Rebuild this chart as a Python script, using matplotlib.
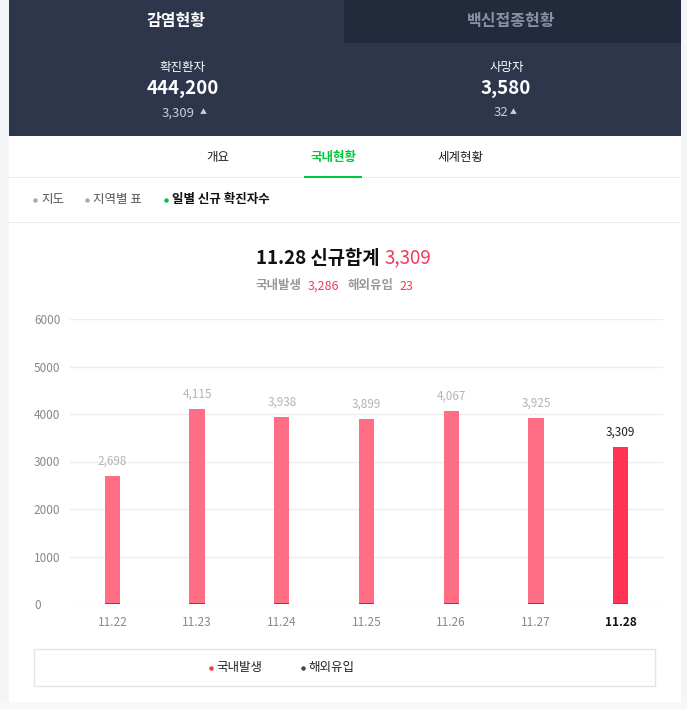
import matplotlib
matplotlib.use("Agg")
import matplotlib.pyplot as plt
from matplotlib.patches import Rectangle
from matplotlib.lines import Line2D

plt.rcParams["font.family"] = ["Noto Sans CJK KR", "DejaVu Sans"]

# data
dates = ["11.22", "11.23", "11.24", "11.25", "11.26", "11.27", "11.28"]
totals = [2698, 4115, 3938, 3899, 4067, 3925, 3309]
overseas = [22, 24, 25, 26, 25, 28, 23]
domestic = [t - o for t, o in zip(totals, overseas)]
y_ticks = [0, 1000, 2000, 3000, 4000, 5000, 6000]

W, H = 687, 709
fig = plt.figure(figsize=(W / 100, H / 100), dpi=100)
fig.patch.set_facecolor("white")


def fx(x):
    return x / W


def fy(y):
    return 1 - y / H


def rect(x0, y0, x1, y1, **kw):
    fig.patches.append(Rectangle((fx(x0), fy(y1)), fx(x1) - fx(x0), fy(y0) - fy(y1),
                                 transform=fig.transFigure, figure=fig, **kw))


def txt(x, y, s, **kw):
    kw.setdefault("ha", "center")
    kw.setdefault("va", "center")
    fig.text(fx(x), fy(y), s, **kw)


def dot(x, y, color, size=3.2):
    fig.lines.append(Line2D([fx(x)], [fy(y)], marker="o", markersize=size, color=color,
                            markeredgewidth=0, transform=fig.transFigure, figure=fig))


# page frame
rect(0, 0, 9, H, color="#f4f5f7", lw=0)
rect(681, 0, W, H, color="#f4f5f7", lw=0)
rect(0, 702, W, H, color="#f7f8fc", lw=0)

# dark header
rect(9, 0, 681, 136, color="#2e364b", lw=0)
rect(344, 0, 681, 43, color="#232a3c", lw=0)
txt(176, 21, "감염현황", color="white", fontsize=11.5, fontweight="bold")
txt(511, 21, "백신접종현황", color="#8890a6", fontsize=11.5, fontweight="bold")
rect(344.5, 58, 345.5, 121, color="#4c546a", lw=0)

txt(182, 67, "확진환자", color="white", fontsize=9)
txt(183, 89, "444,200", color="white", fontsize=13.5, fontweight="bold")
txt(178, 113, "3,309", color="#c9cedd", fontsize=9.5)
txt(203, 112, "\u25b2", color="#c9cedd", fontsize=5)
txt(507, 67, "사망자", color="white", fontsize=9)
txt(506, 89, "3,580", color="white", fontsize=13.5, fontweight="bold")
txt(501, 113, "32", color="#c9cedd", fontsize=9.5)
txt(513, 112, "\u25b2", color="#c9cedd", fontsize=5)

# tabs
txt(218, 157, "개요", color="#222222", fontsize=9)
txt(333, 157, "국내현황", color="#00c73c", fontsize=9, fontweight="bold")
txt(460, 157, "세계현황", color="#222222", fontsize=9)
rect(9, 176.5, 681, 177.5, color="#ebebeb", lw=0)
rect(304, 175.5, 362, 177.5, color="#00c73c", lw=0)

dot(35, 200, "#aaaaaa")
txt(41, 200, "지도", color="#555555", fontsize=9, ha="left")
dot(87, 200, "#aaaaaa")
txt(93, 200, "지역별 표", color="#555555", fontsize=9, ha="left")
dot(166, 200, "#00c73c")
txt(172, 200, "일별 신규 확진자수", color="#111111", fontsize=9, ha="left", fontweight="bold")
rect(9, 221.5, 681, 222.5, color="#ebebeb", lw=0)

# chart titles
txt(379, 258, f"{dates[-1]} 신규합계", color="#111111", fontsize=13.5, fontweight="bold", ha="right")
txt(384, 258, f"{totals[-1]:,}", color="#f4395b", fontsize=13.5, ha="left")
txt(255, 286, "국내발생", color="#999999", fontsize=9, fontweight="bold", ha="left")
txt(308, 286, f"{domestic[-1]:,}", color="#f4395b", fontsize=9, ha="left")
txt(347, 286, "해외유입", color="#999999", fontsize=9, fontweight="bold", ha="left")
txt(399, 286, f"{overseas[-1]}", color="#f4395b", fontsize=9, ha="left")

# bar chart
ax = fig.add_axes([fx(70), fy(604), fx(663) - fx(70), fy(319) - fy(604)])
ax.set_facecolor("none")
x = list(range(len(dates)))
dom_colors = ["#ff6e84"] * (len(dates) - 1) + ["#ff3355"]
ax.bar(x, overseas, width=0.18, color="#5a5a5a", zorder=3)
ax.bar(x, domestic, bottom=overseas, width=0.18, color=dom_colors, zorder=3)
for i, t in enumerate(totals):
    last = i == len(totals) - 1
    ax.annotate(f"{t:,}", (i, t), xytext=(0, 6), textcoords="offset points",
                ha="center", va="bottom", fontsize=8.5,
                color="#222222" if last else "#b4b4b4")

ax.set_xlim(-0.5, 6.5)
ax.set_ylim(0, 6000)
ax.set_yticks(y_ticks)
ax.set_yticklabels([str(v) for v in y_ticks], ha="left")
ax.set_xticks(x)
ax.set_xticklabels(dates)
ax.tick_params(axis="y", length=0, pad=26, labelsize=8.5, labelcolor="#888888")
ax.tick_params(axis="x", length=0, pad=9, labelsize=8.5, labelcolor="#888888")
lab = ax.get_xticklabels()[-1]
lab.set_color("#111111")
lab.set_fontweight("bold")
ax.grid(axis="y", color="#eeeeee", lw=1, zorder=0)
for s in ax.spines.values():
    s.set_visible(False)

# legend box
rect(33.5, 648.5, 655, 686, facecolor="none", edgecolor="#e4e4e4", lw=1)
dot(211, 668, "#ff3355")
txt(216, 668, "국내발생", color="#222222", fontsize=9, ha="left")
dot(303, 668, "#444444")
txt(308, 668, "해외유입", color="#222222", fontsize=9, ha="left")

fig.savefig("out.png", dpi=100)
